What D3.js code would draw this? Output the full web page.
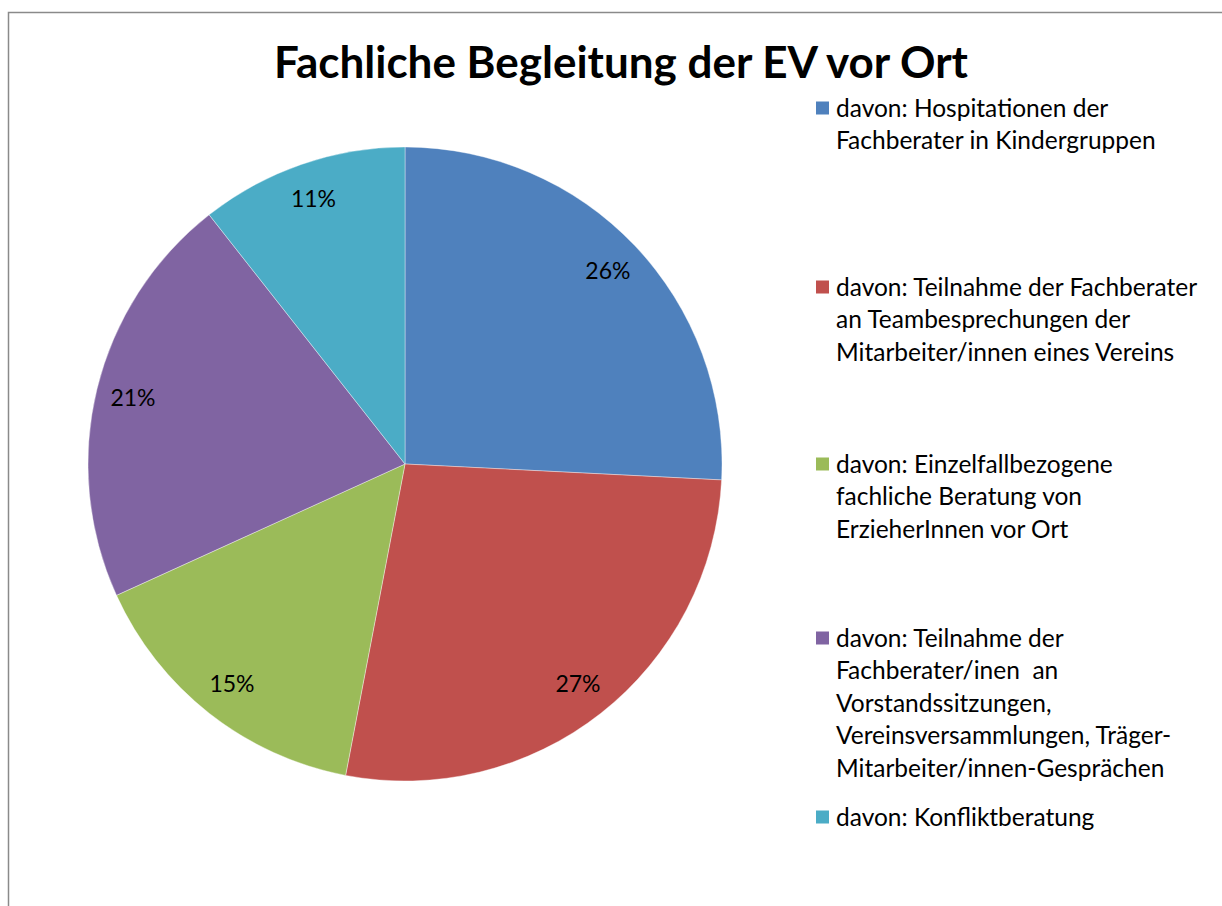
<!DOCTYPE html>
<html>
<head>
<meta charset="utf-8">
<script src="https://cdn.jsdelivr.net/npm/d3@7"></script>
<style>
  body { margin: 0; background: #fff; }
  svg text { font-family: Lato, "Noto Sans", sans-serif; fill: #000; }
</style>
</head>
<body>
<svg id="chart" width="1222" height="906"></svg>
<script>
const categories = [
    "davon: Hospitationen der\nFachberater in Kindergruppen",
    "davon: Teilnahme der Fachberater\nan Teambesprechungen der\nMitarbeiter/innen eines Vereins",
    "davon: Einzelfallbezogene\nfachliche Beratung von\nErzieherInnen vor Ort",
    "davon: Teilnahme der\nFachberater/inen  an\nVorstandssitzungen,\nVereinsversammlungen, Träger-\nMitarbeiter/innen-Gesprächen",
    "davon: Konfliktberatung"
];
const values = [25.8, 27.2, 15.2, 21.2, 10.6];
const colors = ["#4F81BD", "#C0504D", "#9BBB59", "#8064A2", "#4BACC6"];
const legendTops = [108, 287, 464, 638, 817]; // center of first line of each entry
const title = "Fachliche Begleitung der EV vor Ort";

const svg = d3.select("#chart");
const cx = 405, cy = 464, radius = 317;

// chart frame
svg.append("rect")
    .attr("x", 8.5).attr("y", 12.5)
    .attr("width", 1240).attr("height", 920)
    .attr("fill", "none")
    .attr("stroke", "#8a8a8a")
    .attr("stroke-width", 1.5);

// title
svg.append("text")
    .attr("x", 621)
    .attr("y", 78)
    .attr("text-anchor", "middle")
    .style("font-weight", "bold")
    .style("font-size", "44px")
    .text(title);

const total = d3.sum(values);
const pie = d3.pie().sort(null).value(d => d);
const arcs = pie(values);
const arc = d3.arc().innerRadius(0).outerRadius(radius);
const labelArc = d3.arc().innerRadius(280).outerRadius(280);

const g = svg.append("g").attr("transform", `translate(${cx},${cy})`);

g.selectAll("path")
    .data(arcs)
    .enter().append("path")
    .attr("d", arc)
    .attr("fill", (d, i) => colors[i])
    .attr("stroke", "#ffffff")
    .attr("stroke-opacity", 0.5)
    .attr("stroke-width", 0.75);

g.selectAll(".pct")
    .data(arcs)
    .enter().append("text")
    .attr("class", "pct")
    .attr("transform", d => `translate(${labelArc.centroid(d)})`)
    .attr("text-anchor", "middle")
    .attr("dy", "0.35em")
    .style("font-size", "23px")
    .text(d => Math.round(d.data / total * 100) + "%");

// legend
const legend = svg.selectAll(".legend")
    .data(categories)
    .enter().append("g")
    .attr("class", "legend")
    .attr("transform", (d, i) => `translate(816, ${legendTops[i]})`);

legend.append("rect")
    .attr("x", 0)
    .attr("y", -6.5)
    .attr("width", 13)
    .attr("height", 13)
    .attr("fill", (d, i) => colors[i]);

legend.each(function (d) {
    const t = d3.select(this).append("text")
        .attr("x", 20)
        .attr("y", 0)
        .style("font-size", "24.5px")
        .style("white-space", "pre");
    d.split("\n").forEach((line, j) => {
        t.append("tspan")
            .attr("x", 20)
            .attr("dy", j === 0 ? "0.35em" : "32.5px")
            .text(line);
    });
});
</script>
</body>
</html>
